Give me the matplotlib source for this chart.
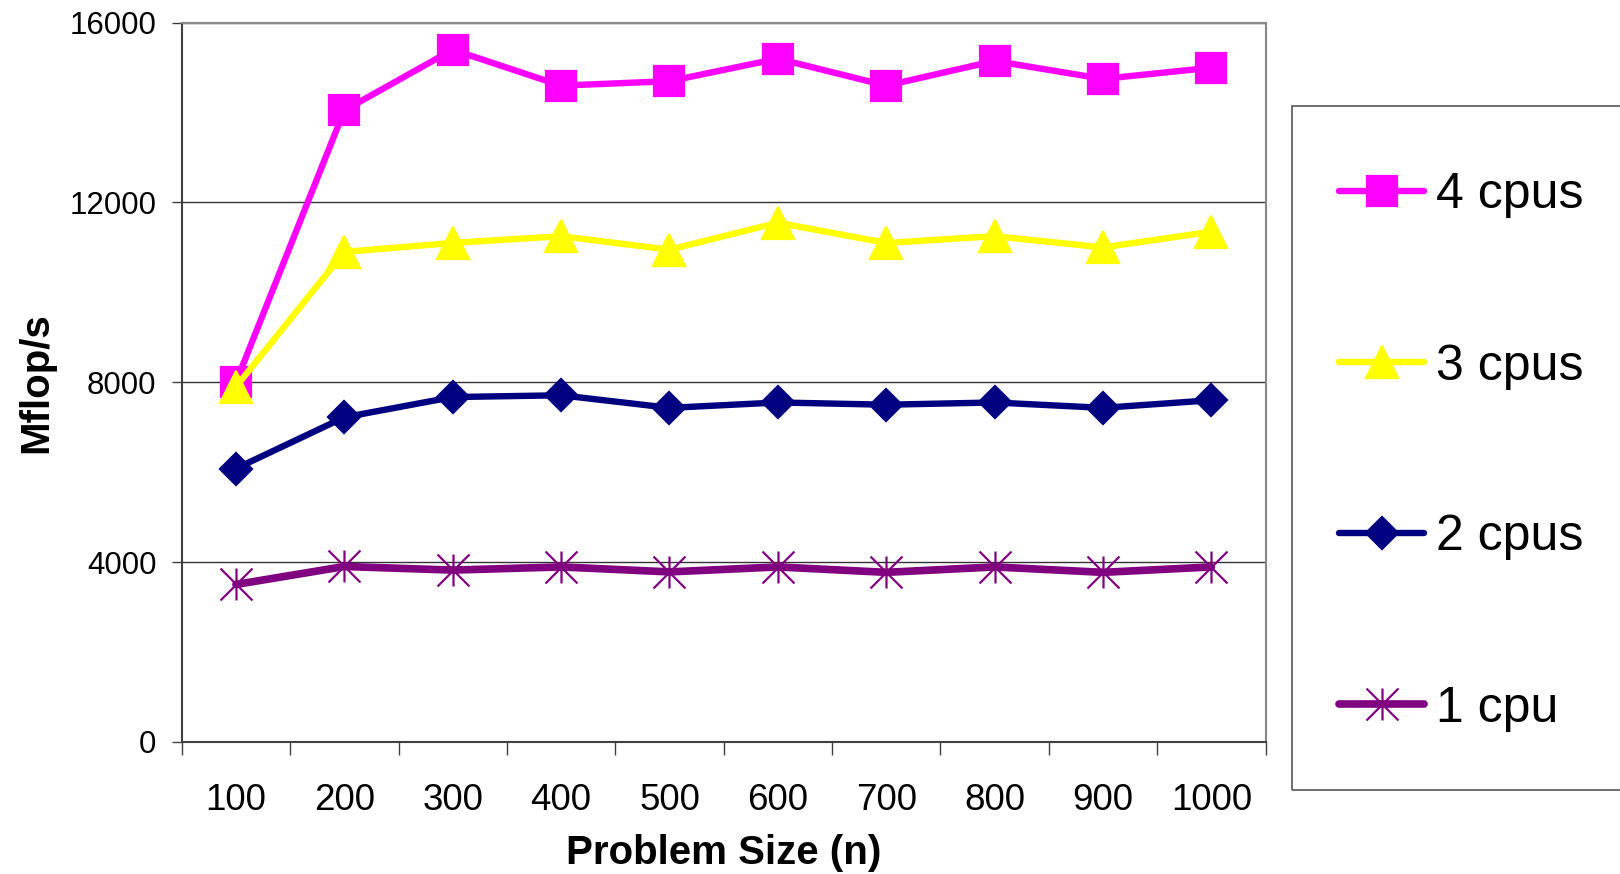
import matplotlib
matplotlib.use('Agg')
import matplotlib.pyplot as plt
from matplotlib.path import Path
from matplotlib.patches import Rectangle

plt.rcParams['font.family'] = ['Liberation Sans', 'DejaVu Sans']

sizes = ['100', '200', '300', '400', '500', '600', '700', '800', '900', '1000']
cpu4 = [8000, 14050, 15400, 14600, 14700, 15200, 14600, 15150, 14750, 15000]
cpu3 = [7900, 10900, 11100, 11250, 10950, 11550, 11100, 11250, 11000, 11350]
cpu2 = [6080, 7220, 7670, 7710, 7430, 7550, 7500, 7550, 7430, 7600]
cpu1 = [3500, 3900, 3820, 3890, 3780, 3890, 3770, 3890, 3770, 3890]
labels = ['4 cpus', '3 cpus', '2 cpus', '1 cpu']
yticks = [0, 4000, 8000, 12000, 16000]

# excel style star: vertical bar plus an X
star = Path([(0, -1), (0, 1), (-1, -1), (1, 1), (-1, 1), (1, -1)],
            [Path.MOVETO, Path.LINETO] * 3)

fig = plt.figure(figsize=(16.2, 8.74), dpi=100)
ax = fig.add_axes([0.1122, 0.1513, 0.669, 0.8227])

x = [i + 0.5 for i in range(len(sizes))]
series = [
    (cpu4, '#FF00FF', 's', 22, 4.6),
    (cpu3, '#FFFF00', '^', 23, 4.6),
    (cpu2, '#000080', 'D', 16, 4.6),
    (cpu1, '#800080', star, 23, 5.5),
]
for (vals, c, m, ms, lw), lab in zip(series, labels):
    ax.plot(x, vals, color=c, lw=lw, marker=m, ms=ms, mfc=c, mec=c,
            mew=1.6, label=lab, solid_capstyle='round', clip_on=False)

ax.set_xlim(0, len(sizes))
ax.set_ylim(0, 16000)
ax.set_yticks(yticks)
ax.set_yticklabels([str(v) for v in yticks], fontsize=22.5)
ax.set_xticks(range(len(sizes) + 1))
ax.set_xticklabels([])
ax.set_xticks(x, minor=True)
ax.set_xticklabels(sizes, minor=True, fontsize=26.5)
ax.tick_params(axis='x', which='major', length=9, width=1, color='#404040', direction='out')
ax.tick_params(axis='x', which='minor', length=0, pad=30)
ax.tick_params(axis='y', length=7.2, width=1, color='#404040', pad=11)

ax.grid(axis='y', color='#333333', lw=1)
ax.set_axisbelow(True)
for s in ['left', 'bottom']:
    ax.spines[s].set_color('#404040')
    ax.spines[s].set_linewidth(1.5)
for s in ['top', 'right']:
    ax.spines[s].set_color('#888888')
    ax.spines[s].set_linewidth(1.5)

ax.set_xlabel('Problem Size (n)', fontsize=29, fontweight='bold', labelpad=11)
ax.set_ylabel('Mflop/s', fontsize=29, fontweight='bold', labelpad=10)

# legend box runs off the right edge
fig.patches.append(Rectangle((1291.5 / 1620, 1 - 790 / 874), 0.3, (790 - 106) / 874,
                             transform=fig.transFigure, fill=False,
                             edgecolor='#555555', lw=1.2))
fig.legend(loc='center left', bbox_to_anchor=(1314 / 1620, 1 - 452 / 874),
           frameon=False, fontsize=36, handlelength=1.7, handletextpad=0.25,
           labelspacing=2.5, borderpad=0)

fig.savefig('out.png', dpi=100)
